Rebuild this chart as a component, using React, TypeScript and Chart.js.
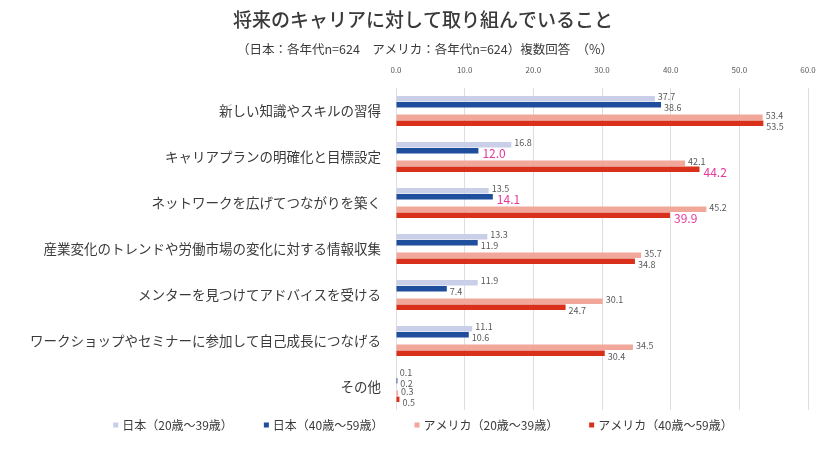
import React, { useEffect, useRef } from "react";
import { Chart, registerables } from "chart.js";

Chart.register(...registerables);

const titleText = "将来のキャリアに対して取り組んでいること";
const subtitleText = "（日本：各年代n=624　アメリカ：各年代n=624）複数回答　（%）";

const categories = [
  "新しい知識やスキルの習得",
  "キャリアプランの明確化と目標設定",
  "ネットワークを広げてつながりを築く",
  "産業変化のトレンドや労働市場の変化に対する情報収集",
  "メンターを見つけてアドバイスを受ける",
  "ワークショップやセミナーに参加して自己成長につなげる",
  "その他",
];

const seriesLabels = [
  "日本（20歳〜39歳）",
  "日本（40歳〜59歳）",
  "アメリカ（20歳〜39歳）",
  "アメリカ（40歳〜59歳）",
];

const jp2039 = [37.7, 16.8, 13.5, 13.3, 11.9, 11.1, 0.1];
const jp4059 = [38.6, 12.0, 14.1, 11.9, 7.4, 10.6, 0.2];
const us2039 = [53.4, 42.1, 45.2, 35.7, 30.1, 34.5, 0.3];
const us4059 = [53.5, 44.2, 39.9, 34.8, 24.7, 30.4, 0.5];

const xMin = 0;
const xMax = 60;
const xStep = 10;

// highlighted labels: [series index, category index]
const highlighted = [
  [1, 1],
  [3, 1],
  [1, 2],
  [3, 2],
];

const colors = ["#c9cee9", "#1f4e9d", "#f1a89b", "#d8301b"];
const FONT = "'Noto Sans CJK JP', 'Noto Sans', sans-serif";

const overlayPlugin = {
  id: "overlay",
  afterDraw(chart: any) {
    const ctx = chart.ctx;
    ctx.save();
    // title
    ctx.fillStyle = "#3a3a3a";
    ctx.textAlign = "center";
    ctx.textBaseline = "middle";
    ctx.font = `500 19px ${FONT}`;
    ctx.fillText(titleText, 423, 20);
    ctx.font = `12.5px ${FONT}`;
    ctx.fillText(subtitleText, 425, 49);

    // data labels
    const seriesMap = [0, 1, 3, 4];
    seriesMap.forEach((dsIndex, s) => {
      const meta = chart.getDatasetMeta(dsIndex);
      const data = chart.data.datasets[dsIndex].data;
      meta.data.forEach((el: any, i: number) => {
        const v = data[i];
        if (v == null) return;
        const hl = highlighted.some((h) => h[0] === s && h[1] === i);
        const top = s === 0 || s === 2;
        ctx.textAlign = "left";
        ctx.textBaseline = "middle";
        if (hl) {
          ctx.font = `12px ${FONT}`;
          ctx.fillStyle = "#e6379b";
          ctx.fillText(v.toFixed(1), el.x + 4, el.y + 3);
        } else {
          ctx.font = `9px ${FONT}`;
          ctx.fillStyle = "#595959";
          ctx.fillText(v.toFixed(1), el.x + 3, el.y + (top ? -2 : 3));
        }
      });
    });

    // legend
    ctx.font = `12px ${FONT}`;
    const box = 5;
    const boxGap = 4;
    const itemGap = 31;
    const widths = seriesLabels.map((l) => box + boxGap + ctx.measureText(l).width);
    const total = widths.reduce((a, b) => a + b, 0) + itemGap * (widths.length - 1);
    let x = 423 - total / 2;
    const ly = 425;
    seriesLabels.forEach((l, i) => {
      ctx.fillStyle = colors[i];
      ctx.fillRect(x, ly - box / 2, box, box);
      ctx.fillStyle = "#3a3a3a";
      ctx.textAlign = "left";
      ctx.textBaseline = "middle";
      ctx.fillText(l, x + box + boxGap, ly);
      x += widths[i] + itemGap;
    });
    ctx.restore();
  },
};

export default function App() {
  const ref = useRef<HTMLCanvasElement | null>(null);

  useEffect(() => {
    if (!ref.current) return;
    const chart = new Chart(ref.current, {
      type: "bar",
      data: {
        labels: categories,
        datasets: [
          { label: seriesLabels[0], data: jp2039, backgroundColor: colors[0] },
          { label: seriesLabels[1], data: jp4059, backgroundColor: colors[1] },
          { label: "", data: categories.map(() => null), backgroundColor: "transparent" },
          { label: seriesLabels[2], data: us2039, backgroundColor: colors[2] },
          { label: seriesLabels[3], data: us4059, backgroundColor: colors[3] },
        ] as any,
      },
      options: {
        indexAxis: "y",
        responsive: false,
        animation: false,
        datasets: {
          bar: { categoryPercentage: 0.67, barPercentage: 0.88 },
        },
        layout: { padding: { top: 62, right: 31, bottom: 44, left: 0 } },
        plugins: {
          legend: { display: false },
          title: { display: false },
          tooltip: { enabled: false },
        },
        scales: {
          x: {
            position: "top",
            min: xMin,
            max: xMax,
            ticks: {
              stepSize: xStep,
              callback: (v: any) => Number(v).toFixed(1),
              font: { family: FONT, size: 8 },
              color: "#595959",
              padding: 13,
            },
            grid: { color: "#dedede", drawTicks: false },
            border: { display: false },
            afterFit: (s: any) => {
              s.height = 26;
            },
          },
          y: {
            ticks: {
              font: { family: FONT, size: 13.5 },
              color: "#3a3a3a",
              padding: 7,
            },
            grid: { display: false },
            border: { display: false },
            afterFit: (s: any) => {
              s.width = 396;
            },
          },
        },
      } as any,
      plugins: [overlayPlugin],
    });
    return () => chart.destroy();
  }, []);

  return (
    <div style={{ position: "absolute", left: 0, top: 0, width: 839, height: 454, background: "#fff" }}>
      <canvas ref={ref} width={839} height={454} />
    </div>
  );
}
